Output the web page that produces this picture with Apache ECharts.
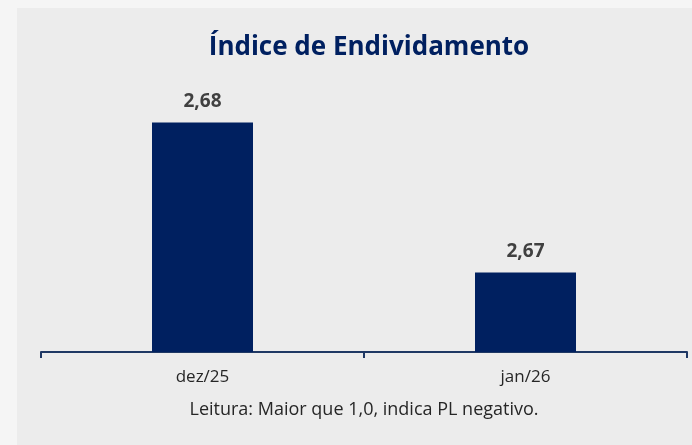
<!DOCTYPE html>
<html>
<head>
<meta charset="utf-8">
<script src="https://cdn.jsdelivr.net/npm/echarts@6/dist/echarts.min.js"></script>
<style>
html,body{margin:0;padding:0;background:#f5f5f5;}
#chart{width:692px;height:445px;}
</style>
</head>
<body>
<div id="chart"></div>
<script>
const categories = ['dez/25', 'jan/26'];
const values = [2.68, 2.67];
const titleText = 'Índice de Endividamento';
const noteText = 'Leitura: Maior que 1,0, indica PL negativo.';
const yMin = 2.6647;
const yMax = 2.6815;

const chart = echarts.init(document.getElementById('chart'));
const fontFam = '"Open Sans", "Noto Sans", sans-serif';
chart.setOption({
  backgroundColor: '#f5f5f5',
  animation: false,
  title: {
    text: titleText,
    left: 364,
    textAlign: 'center',
    top: 30,
    textStyle: { fontFamily: fontFam, fontWeight: 'bold', fontSize: 26, color: '#002060' }
  },
  graphic: [
    { type: 'rect', z: -10, shape: { x: 17, y: 8, width: 700, height: 460 }, style: { fill: '#ececec' }, silent: true },
    { type: 'text', x: 364, y: 410, style: { text: noteText, font: '18px ' + fontFam, fill: '#262626', textAlign: 'center', textVerticalAlign: 'middle' } }
  ],
  grid: { left: 41, right: 5, top: 100, bottom: 93 },
  xAxis: {
    type: 'category',
    data: categories,
    axisLine: { lineStyle: { color: '#1f3864', width: 2 } },
    axisTick: { show: true, length: 6, lineStyle: { color: '#1f3864', width: 2 } },
    axisLabel: { fontFamily: fontFam, fontSize: 17, color: '#262626', margin: 17 }
  },
  yAxis: {
    type: 'value',
    min: yMin,
    max: yMax,
    show: false,
    splitLine: { show: false }
  },
  series: [{
    type: 'bar',
    data: values,
    barWidth: 101,
    itemStyle: { color: '#002060' },
    label: {
      show: true,
      position: 'top',
      distance: 11,
      fontFamily: fontFam,
      fontWeight: 'bold',
      fontSize: 19,
      color: '#404040',
      formatter: p => p.value.toFixed(2).replace('.', ',')
    }
  }]
});
</script>
</body>
</html>
